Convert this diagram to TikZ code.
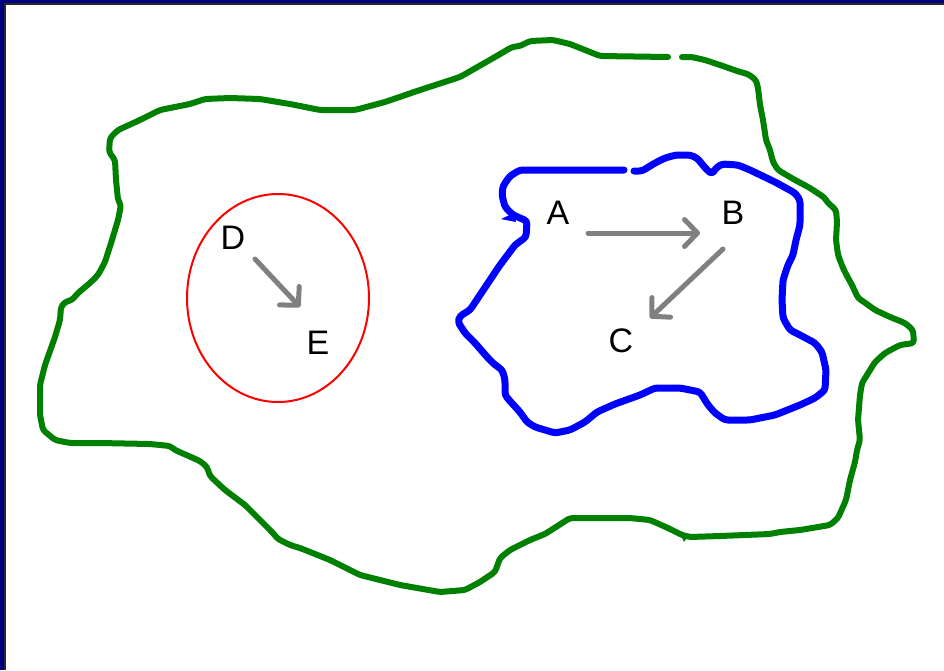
\documentclass[tikz,border=0pt]{standalone}
\usepackage{fontspec}
\setmainfont{Liberation Sans}
\usetikzlibrary{arrows.meta,calc}
\definecolor{frameblue}{RGB}{0,0,128}
\definecolor{framegray}{RGB}{40,40,40}
\definecolor{setgreen}{RGB}{0,128,0}
\tikzset{
  lbl/.style={font=\fontsize{34}{34}\selectfont, inner sep=0pt},
  arr/.style={draw=gray, line width=5pt, line cap=round,
    -{Straight Barb[length=13pt, width=27pt, round]}},
  outerset/.style={draw=setgreen, line width=6pt, rounded corners=3pt, line join=round, line cap=round},
  innerset/.style={draw=blue, line width=7pt, rounded corners=3pt, line join=round, line cap=round},
}
\begin{document}
\begin{tikzpicture}[x=1pt, y=-1pt]
\useasboundingbox (0,0) rectangle (944,670);
\fill[white] (0,0) rectangle (944,670);
% frame on the left and top edges
\fill[frameblue] (0,0) rectangle (4,670);
\fill[frameblue] (0,0) rectangle (944,3);
\fill[framegray] (4,3) rectangle (6,670);
\fill[framegray] (4,3) rectangle (944,5);

% outer green set
\draw[outerset] (668,57) -- (600,56) -- (570,44) -- (553,40) -- (530,41) -- (520,46) -- (512,47)
  -- (495,57) -- (460,77) -- (420,90) -- (385,102) -- (355,110) -- (320,110) -- (290,104)
  -- (260,99) -- (230,98) -- (205,99) -- (190,104) -- (160,110) -- (140,120) -- (118,130)
  -- (110,138) -- (109,152) -- (115,160) -- (116,180) -- (118,200) -- (121,205) -- (118,220)
  -- (112,240) -- (105,262) -- (98,275) -- (90,283) -- (78,293) -- (72,300) -- (65,302)
  -- (61,307) -- (60,320) -- (55,337) -- (45,365) -- (40,385) -- (40,415) -- (43,430)
  -- (55,440) -- (70,443) -- (100,443) -- (150,444) -- (170,446) -- (175,450) -- (200,461)
  -- (207,467) -- (210,476) -- (225,490) -- (245,505) -- (265,525) -- (272,532) -- (278,539)
  -- (290,545) -- (300,548) -- (330,560) -- (360,575) -- (400,585) -- (440,592) -- (465,590)
  -- (480,582) -- (495,572) -- (500,558) -- (510,550) -- (530,540) -- (545,534) -- (570,518)
  -- (600,518) -- (630,518) -- (650,520) -- (668,528) -- (682,535) -- (690,537) -- (720,536)
  -- (770,534) -- (780,532) -- (800,530) -- (830,525) -- (838,518) -- (846,500) -- (850,480)
  -- (855,462) -- (857,450) -- (860,440) -- (858,420) -- (860,395) -- (862,383) -- (875,362)
  -- (885,353) -- (900,345) -- (914,343) -- (913,330) -- (905,323) -- (890,317) -- (875,310)
  -- (864,302) -- (858,298) -- (852,285) -- (847,276) -- (843,268) -- (838,255) -- (836,240)
  -- (837,222) -- (836,210) -- (827,202) -- (825,198) -- (810,188) -- (795,180) -- (778,170)
  -- (773,162) -- (770,150) -- (766,140) -- (763,120) -- (760,105) -- (758,88) -- (756,80)
  -- (748,74) -- (740,72) -- (720,65) -- (705,60) -- (696,58) -- (692,57) -- (682,57);
% small stray stroke below the bottom edge
\fill[setgreen] (680,533) -- (684,542) -- (688,536) -- cycle;

% inner blue set
\draw[innerset] (624,170) -- (520,170) -- (510,176) -- (503,186) -- (502,195) -- (505,207)
  -- (513,215) -- (527,221) -- (526,237) -- (515,245) -- (500,265) -- (480,295)
  -- (470,310) -- (460,316) -- (458,322) -- (465,333) -- (475,343) -- (488,358) -- (495,365)
  -- (500,368) -- (503,372) -- (505,380) -- (505,395) -- (509,400) -- (520,412) -- (527,422)
  -- (535,427) -- (545,430) -- (555,433) -- (570,430) -- (585,422) -- (597,412) -- (615,404)
  -- (640,395) -- (655,388) -- (680,388) -- (700,392) -- (708,405) -- (715,413) -- (725,420)
  -- (750,420) -- (775,415) -- (800,405) -- (815,398) -- (825,390) -- (826,370) -- (822,352)
  -- (815,343) -- (800,335) -- (790,330) -- (783,318) -- (782,300) -- (783,280) -- (788,265)
  -- (793,255) -- (796,240) -- (800,225) -- (800,200) -- (795,193) -- (775,182) -- (750,170)
  -- (738,165) -- (722,164) -- (716,168) -- (712,174) -- (707,170) -- (697,158) -- (690,155)
  -- (676,155) -- (665,158) -- (655,163) -- (642,171) -- (634,171);
% sharp spike on the left side of the blue set
\fill[blue] (501,219) -- (514,213) -- (516,222) -- cycle;

% red set
\draw[red, line width=2pt] (278,298) ellipse [x radius=91, y radius=104];

% elements
\node[lbl] (A) at (558,213) {A};
\node[lbl] (B) at (733,213) {B};
\node[lbl] (C) at (621,341) {C};
\node[lbl] (D) at (233,238) {D};
\node[lbl] (E) at (318,343) {E};

% relations
\draw[arr] ($(A)+(30,20)$) -- ($(B)+(-33,20)$);
\draw[arr] ($(B)+(-10,36)$) -- ($(C)+(29,-23)$);
\draw[arr] ($(D)+(22,21)$) -- ($(E)+(-18,-36)$);
\end{tikzpicture}
\end{document}
